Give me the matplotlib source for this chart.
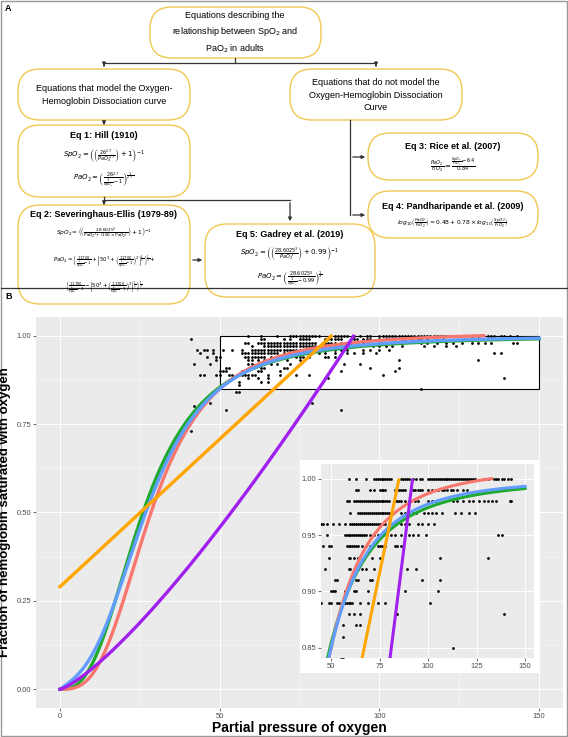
import matplotlib.pyplot as plt
import numpy as np
from matplotlib.patches import FancyBboxPatch, Rectangle

plt.rcParams['font.family'] = ['Liberation Sans', 'DejaVu Sans']

levels = [1.00, 0.99, 0.98, 0.97, 0.96, 0.95, 0.94, 0.93, 0.92, 0.91, 0.90, 0.89, 0.88, 0.87, 0.86, 0.85]
pao2_at_level = [
    [59, 63, 68, 72, 73, 74, 75, 76, 77, 78, 79, 80, 81, 86, 87, 88, 89, 90, 92, 94, 96, 97, 100, 101, 102, 103, 104,
     105, 106, 107, 108, 109, 110, 111, 112, 113, 114, 115, 116, 117, 118, 119, 120, 121, 122, 123, 124, 129, 131,
     134, 135, 136, 138, 139, 141, 143],
    [63, 64, 70, 72, 75, 76, 77, 78, 83, 84, 85, 86, 87, 88, 92, 93, 95, 96, 97, 100, 102, 104, 105, 107, 108, 110,
     112, 113, 115, 118, 120, 130, 133],
    [58, 59, 62, 63, 64, 65, 66, 67, 68, 69, 70, 71, 72, 73, 74, 75, 76, 77, 78, 79, 80, 83, 84, 85, 86, 88, 90, 91,
     93, 95, 100, 102, 104, 113, 115, 118, 121, 123, 126, 129, 131, 133, 135, 142, 143],
    [60, 64, 65, 66, 67, 68, 69, 70, 71, 72, 73, 74, 75, 76, 77, 78, 79, 80, 86, 88, 90, 92, 94, 98, 100, 102, 104,
     107, 114, 117, 121, 124],
    [46, 48, 51, 54, 57, 60, 61, 62, 63, 64, 65, 66, 67, 68, 69, 70, 71, 72, 73, 74, 75, 76, 77, 78, 80, 81, 83, 86,
     88, 90, 95, 97, 100, 103],
    [48, 57, 58, 59, 60, 61, 62, 63, 64, 65, 66, 67, 68, 70, 72, 74, 77, 79, 81, 83, 86, 90, 92, 95, 99, 136, 138],
    [49, 50, 58, 59, 60, 61, 62, 63, 64, 66, 68, 70, 74, 75, 76, 78, 83, 84, 86],
    [49, 59, 60, 62, 64, 67, 71, 75, 106, 131],
    [47, 59, 60, 64, 66, 68, 72, 89, 94],
    [52, 53, 63, 64, 70, 71, 97, 106],
    [50, 51, 52, 57, 58, 62, 63, 69, 88, 105],
    [49, 50, 53, 54, 57, 58, 59, 60, 61, 65, 69, 74, 78, 101],
    [59, 62, 65, 84, 139],
    [56, 63, 65],
    [56],
    [113],
]
# points outside the inset window
extra_pao2 = [41, 43, 44, 45, 46, 42, 44, 45, 42, 41, 47, 52, 88, 79, 55, 56]
extra_spo2 = [0.99, 0.96, 0.95, 0.96, 0.94, 0.92, 0.89, 0.89, 0.80, 0.73, 0.81, 0.79, 0.79, 0.81, 0.84, 0.84]

# model parameters from panel A
hill_p50, hill_n = 26, 2.7
se_a, se_b = 23400, 150
gadrey_k, gadrey_c = 28.6025, 0.99
rice_intercept, rice_slope = 0.29, 0.00835
pand_p100, pand_exp = 92, 0.78

px, py = [], []
for lv, xs in zip(levels, pao2_at_level):
    px += xs
    py += [lv] * len(xs)
px += extra_pao2
py += extra_spo2

P = np.linspace(0.01, 150, 600)
hill = 1 / ((hill_p50 / P) ** hill_n + 1)
sev = 1 / (se_a / (P ** 3 + se_b * P) + 1)
gad = 1 / (gadrey_k ** 3 / P ** 3 + gadrey_c)
gad = np.where(gad <= 1.0, gad, np.nan)
rice = rice_intercept + rice_slope * P
rice = np.where(rice <= 1.0, rice, np.nan)
pand = (P / pand_p100) ** (1 / pand_exp)
pand = np.where(pand <= 1.0, pand, np.nan)

W, H = 568, 737
fig = plt.figure(figsize=(W / 100, H / 100), dpi=100)
bg = fig.add_axes([0, 0, 1, 1])
bg.set_xlim(0, W)
bg.set_ylim(H, 0)
bg.axis('off')

gold = '#F0C850'
fs = 6.5


def box(x0, y0, x1, y1):
    bg.add_patch(FancyBboxPatch((x0, y0), x1 - x0, y1 - y0,
                                boxstyle="round,pad=0,rounding_size=22",
                                fc='white', ec=gold, lw=1))


def arrow(x0, y0, x1, y1):
    bg.annotate('', xy=(x1, y1), xytext=(x0, y0),
                arrowprops=dict(arrowstyle='-|>', color='#333333', lw=0.9, mutation_scale=5))


def line(xs, ys):
    bg.plot(xs, ys, color='#333333', lw=0.9)


# borders
bg.add_patch(Rectangle((1, 1), W - 2, H - 2, fill=False, ec='#999999', lw=1))
line([1, W - 1], [288, 288])
bg.text(5, 4, 'A', fontsize=6.5, fontweight='bold', va='top')
bg.text(5, 292, 'B', fontsize=6.5, fontweight='bold', va='top')

# flowchart
box(150, 7, 321, 58)
bg.text(235, 33, 'Equations describing the\nrelationship between SpO$_2$ and\nPaO$_2$ in adults',
        ha='center', va='center', fontsize=fs, linespacing=1.5)
line([235, 235], [58, 63])
line([104, 376], [63, 63])
arrow(104, 63, 104, 69)
arrow(376, 63, 376, 69)

box(18, 69, 190, 120)
bg.text(104, 95, 'Equations that model the Oxygen-\nHemoglobin Dissociation curve',
        ha='center', va='center', fontsize=fs, linespacing=1.5)
box(290, 69, 462, 120)
bg.text(376, 95, 'Equations that do not model the\nOxygen-Hemoglobin Dissociation\nCurve',
        ha='center', va='center', fontsize=fs, linespacing=1.5)

arrow(104, 120, 104, 125)
box(18, 125, 190, 197)
bg.text(104, 135, 'Eq 1: Hill (1910)', ha='center', va='center', fontsize=fs, fontweight='bold')
bg.text(104, 155, r'$SpO_2=\left(\left(\frac{26^{2.7}}{PaO_2^{\ 2.7}}\right)+1\right)^{-1}$',
        ha='center', va='center', fontsize=5)
bg.text(104, 180, r'$PaO_2=\left(\frac{26^{2.7}}{\frac{1}{SpO_2}-1}\right)^{\frac{1}{2.7}}$',
        ha='center', va='center', fontsize=5)

line([104, 104], [197, 200])
arrow(104, 200, 104, 205)
line([104, 290], [200, 200])
arrow(290, 200, 290, 224)

box(18, 205, 190, 304)
bg.text(104, 214, 'Eq 2: Severinghaus-Ellis (1979-89)', ha='center', va='center', fontsize=fs, fontweight='bold')
bg.text(104, 233, r'$SpO_2=\left(\left(\frac{28.6025^3}{PaO_2^{\ 3}+(150\times PaO_2)}\right)+1\right)^{-1}$',
        ha='center', va='center', fontsize=4.2)
bg.text(104, 262, r'$PaO_2=\left\{\frac{11700}{\frac{1}{SpO_2}-1}+\left[50^3+\left(\frac{11700}{\frac{1}{SpO_2}-1}\right)^2\right]^{\frac{1}{2}}\right\}^{\frac{1}{3}}+$',
        ha='center', va='center', fontsize=3.8)
bg.text(104, 288, r'$\left\{\frac{11700}{\frac{1}{SpO_2}-1}-\left[50^3+\left(\frac{11700}{\frac{1}{SpO_2}-1}\right)^2\right]^{\frac{1}{2}}\right\}^{\frac{1}{3}}$',
        ha='center', va='center', fontsize=3.8)
arrow(190, 260, 205, 260)

box(205, 224, 375, 297)
bg.text(290, 234, 'Eq 5: Gadrey et al. (2019)', ha='center', va='center', fontsize=fs, fontweight='bold')
bg.text(290, 253, r'$SpO_2=\left(\left(\frac{28.6025^3}{PaO_2^{\ 3}}\right)+0.99\right)^{-1}$',
        ha='center', va='center', fontsize=5)
bg.text(290, 279, r'$PaO_2=\left(\frac{28.6025^3}{\frac{1}{SpO_2}-0.99}\right)^{\frac{1}{3}}$',
        ha='center', va='center', fontsize=5)

line([350, 350], [120, 215])
arrow(350, 157, 368, 157)
arrow(350, 215, 368, 215)
box(368, 133, 538, 180)
bg.text(453, 146, 'Eq 3: Rice et al. (2007)', ha='center', va='center', fontsize=fs, fontweight='bold')
bg.text(453, 165, r'$\frac{PaO_2}{FiO_2}=\frac{\frac{SpO_2}{FiO_2}-64}{0.84}$',
        ha='center', va='center', fontsize=5)
box(368, 191, 538, 238)
bg.text(453, 206, 'Eq 4: Pandharipande et al. (2009)', ha='center', va='center', fontsize=fs, fontweight='bold')
bg.text(453, 222, r'$log_{10}\left(\frac{PaO_2}{FiO_2}\right)=0.48+0.78\times log_{10}\left(\frac{SpO_2}{FiO_2}\right)$',
        ha='center', va='center', fontsize=4.3)

colors = {'hill': '#1DAA2E', 'gad': '#F8766D', 'sev': '#619CFF', 'rice': '#FFA500', 'pand': '#A020F0'}


def draw(ax, lw, ms):
    ax.set_facecolor('#EBEBEB')
    ax.grid(True, color='white', lw=0.7)
    ax.set_axisbelow(True)
    for s in ax.spines.values():
        s.set_visible(False)
    ax.tick_params(labelsize=5.5, labelcolor='#4D4D4D', color='#333333', length=2, width=0.5, pad=1.5)
    ax.scatter(px, py, s=ms, color='black', zorder=3, lw=0)
    ax.plot(P, hill, color=colors['hill'], lw=lw, zorder=4)
    ax.plot(P, gad, color=colors['gad'], lw=lw, zorder=4)
    ax.plot(P, sev, color=colors['sev'], lw=lw, zorder=4)
    ax.plot(P, rice, color=colors['rice'], lw=lw, zorder=4)
    ax.plot(P, pand, color=colors['pand'], lw=lw, zorder=4)


ax = fig.add_axes([36 / W, 29 / H, 527 / W, 391 / H])
ax.add_patch(Rectangle((50, 0.85), 100, 0.15, fc='white', ec='black', lw=0.8, zorder=2))
draw(ax, 2.4, 4)
ax.set_xlim(-7.5, 157.5)
ax.set_ylim(-0.053, 1.053)
ax.set_xticks([0, 50, 100, 150])
ax.set_yticks([0, 0.25, 0.5, 0.75, 1.0])
ax.set_yticklabels(['0.00', '0.25', '0.50', '0.75', '1.00'])
ax.set_xticks([25, 75, 125], minor=True)
ax.set_yticks([0.125, 0.375, 0.625, 0.875], minor=True)
ax.grid(True, which='minor', color='white', lw=0.35)
ax.tick_params(which='minor', length=0)
ax.set_xlabel('Partial pressure of oxygen', fontsize=10, fontweight='bold', labelpad=1)
ax.set_ylabel('Fraction of hemoglobin saturated with oxygen', fontsize=9.5, fontweight='bold', labelpad=4)

# white card behind the inset, above the main panel
card = fig.add_axes([300 / W, 64 / H, 239 / W, 213 / H])
card.set_facecolor('white')
card.set_xticks([])
card.set_yticks([])
for s in card.spines.values():
    s.set_visible(False)

ins = fig.add_axes([321 / W, 79 / H, 213 / W, 194 / H])
draw(ins, 2.2, 4)
ins.set_xlim(44.8, 154.6)
ins.set_ylim(0.841, 1.013)
ins.set_xticks([50, 75, 100, 125, 150])
ins.set_yticks([0.85, 0.90, 0.95, 1.00])
ins.set_yticklabels(['0.85', '0.90', '0.95', '1.00'])

fig.savefig('out.png', dpi=100)
